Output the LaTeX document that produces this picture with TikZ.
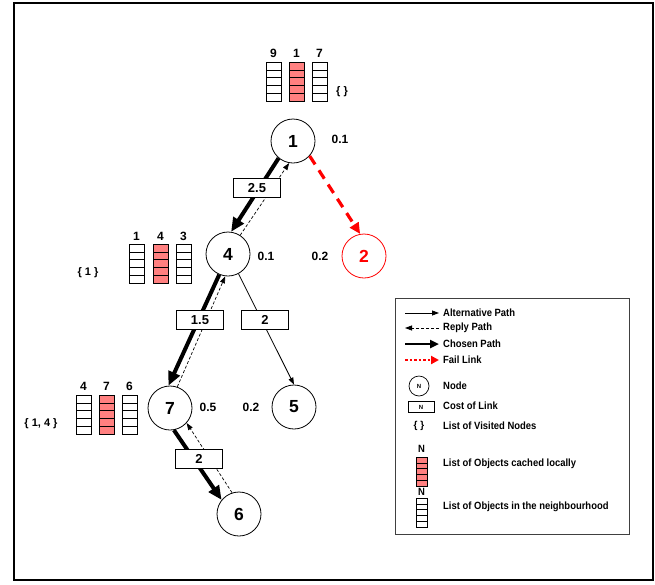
\documentclass[tikz,border=0pt]{standalone}
\usepackage{fontspec}
\setmainfont{Liberation Sans}
\newfontfamily\legendfont[FakeStretch=0.9]{Liberation Sans}
\usetikzlibrary{arrows.meta,calc}
\definecolor{cachedred}{RGB}{255,128,128}
\definecolor{failred}{RGB}{255,0,0}

% a column of five object slots: left x, top y, width, cell height, fill
\newcommand{\cellstack}[5]{%
  \foreach \k in {0,...,4}{%
    \draw[cellline,fill=#5] (#1,{#2+\k*#4}) rectangle ++(#3,#4);}%
}

\begin{document}
\begin{tikzpicture}[x=1pt,y=-1pt,
  peer/.style={circle,draw,line width=0.8pt,minimum size=44pt,inner sep=0pt,
    font=\fontsize{17.5}{17.5}\selectfont\bfseries},
  failpeer/.style={peer,draw=failred,text=failred},
  costbox/.style={draw,line width=0.9pt,fill=white,minimum width=47pt,minimum height=19pt,
    inner sep=0pt,font=\fontsize{13}{13}\selectfont\bfseries},
  delay/.style={font=\fontsize{12}{12}\selectfont\bfseries,inner sep=0pt},
  collabel/.style={font=\fontsize{12}{12}\selectfont\bfseries,inner sep=0pt},
  visited/.style={font=\fontsize{11}{11}\selectfont\bfseries,inner sep=0pt},
  cellline/.style={draw=black,line width=0.6pt},
  chosen/.style={line width=4pt,-{Triangle[length=14pt,width=12pt]}},
  altpath/.style={line width=0.8pt,-{Triangle[length=7pt,width=5pt]}},
  reply/.style={line width=0.7pt,dash pattern=on 3pt off 2pt,-{Triangle[length=7pt,width=5pt]}},
  fail/.style={failred,line width=3.2pt,dash pattern=on 10pt off 7pt,
    -{Triangle[length=11pt,width=10pt]}},
  legtext/.style={anchor=west,inner sep=0pt,font=\legendfont\fontsize{10.5}{10.5}\selectfont\bfseries},
  legmark/.style={inner sep=0pt,font=\fontsize{6}{6}\selectfont\bfseries}
]
\useasboundingbox (0,0) rectangle (655,584);
\draw[line width=2pt] (14,3) rectangle (653,580);

% peers
\node[peer] (n1) at (293,141) {1};
\node[peer] (n4) at (228,254) {4};
\node[failpeer] (n2) at (364,256) {2};
\node[peer] (n7) at (170,408) {7};
\node[peer] (n5) at (294,407) {5};
\node[peer] (n6) at (239,514) {6};

% delays
\node[delay] (d1) at (340,139) {0.1};
\node[delay] (d4) at (266,256) {0.1};
\node[delay] (d2) at (320,256) {0.2};
\node[delay] (d7) at (208,407) {0.5};
\node[delay] (d5) at (251,407) {0.2};

% links
\draw[chosen] (n1.230) -- (n4.82);
\draw[reply] (n4.57) -- (n1.260);
\draw[fail] (n1.318) -- (n2.100);
\draw[chosen] (n4.247) -- (n7.94);
\draw[reply] (n7.71) -- (n4.263);
\draw[altpath] (n4.298) -- (n5.90);
\draw[chosen] (n7.280) -- (n6.141);
\draw[reply] (n6.108) -- (n7.318);

% link costs
\node[costbox] (c14) at (257,188) {2.5};
\node[costbox] (c47) at (200,320) {1.5};
\node[costbox] (c45) at (265,320) {2};
\node[costbox] (c76) at (199,459) {2};

% object lists of peer 1
\cellstack{266}{62}{15.5}{7.8}{white}
\cellstack{289}{62}{15.5}{7.8}{cachedred}
\cellstack{312}{62}{15.5}{7.8}{white}
\node[collabel] (l1a) at (273.5,53) {9};
\node[collabel] (l1b) at (296.5,53) {1};
\node[collabel] (l1c) at (319.5,53) {7};
\node[visited] (v1) at (342,92) {\{ \}};

% object lists of peer 4
\cellstack{129}{244}{15.5}{7.8}{white}
\cellstack{153}{244}{15.5}{7.8}{cachedred}
\cellstack{176}{244}{15.5}{7.8}{white}
\node[collabel] (l4a) at (136.5,236) {1};
\node[collabel] (l4b) at (160.5,236) {4};
\node[collabel] (l4c) at (183.5,236) {3};
\node[visited] (v4) at (88,273) {\{ 1 \}};

% object lists of peer 7
\cellstack{76}{395}{15.5}{7.8}{white}
\cellstack{99}{395}{15.5}{7.8}{cachedred}
\cellstack{122}{395}{15.5}{7.8}{white}
\node[collabel] (l7a) at (83.5,386) {4};
\node[collabel] (l7b) at (106.5,386) {7};
\node[collabel] (l7c) at (129.5,386) {6};
\node[visited] (v7) at (41,424) {\{ 1, 4 \}};

% legend
\draw[line width=0.9pt,draw=black!75] (395,298) rectangle (629,534);
\coordinate (a1) at (405,313); \coordinate (a2) at (439,313);
\coordinate (r1) at (405,328); \coordinate (r2) at (439,328);
\coordinate (h1) at (405,344); \coordinate (h2) at (439,344);
\coordinate (f1) at (405,360); \coordinate (f2) at (439,360);
\draw[line width=0.8pt,-{Triangle[length=7pt,width=5pt]}] (a1) -- (a2);
\draw[line width=0.8pt,dash pattern=on 3pt off 2pt,-{Triangle[length=7pt,width=5pt]}] (r2) -- (r1);
\draw[line width=2.6pt,-{Triangle[length=9pt,width=8pt]}] (h1) -- (h2);
\draw[failred,line width=2.6pt,dash pattern=on 2.5pt off 2pt,-{Triangle[length=8pt,width=8pt]}] (f1) -- (f2);
\node[legtext] (t1) at (443,313) {Alternative Path};
\node[legtext] (t2) at (443,328) {Reply Path};
\node[legtext] (t3) at (443,344) {Chosen Path};
\node[legtext] (t4) at (443,360) {Fail Link};

\node[circle,draw,line width=0.7pt,minimum size=20pt,legmark] (kn) at (419,386) {N};
\node[legtext] (t5) at (443,386) {Node};
\node[draw,line width=0.7pt,minimum width=26pt,minimum height=11pt,legmark] (kc) at (421,407) {N};
\node[legtext] (t6) at (443,406) {Cost of Link};
\node[visited,font=\fontsize{10}{10}\selectfont\bfseries] (kv) at (419,426) {\{ \}};
\node[legtext] (t7) at (443,426) {List of Visited Nodes};

\node[legtext,anchor=center] (kl1) at (421.5,449) {N};
\cellstack{416}{457}{11}{5.8}{cachedred}
\node[legtext] (t8) at (443,464) {List of Objects cached locally};
\node[legtext,anchor=center] (kl2) at (421.5,492) {N};
\cellstack{416}{498}{11}{5.8}{white}
\node[legtext] (t9) at (443,507) {List of Objects in the neighbourhood};
\end{tikzpicture}
\end{document}
